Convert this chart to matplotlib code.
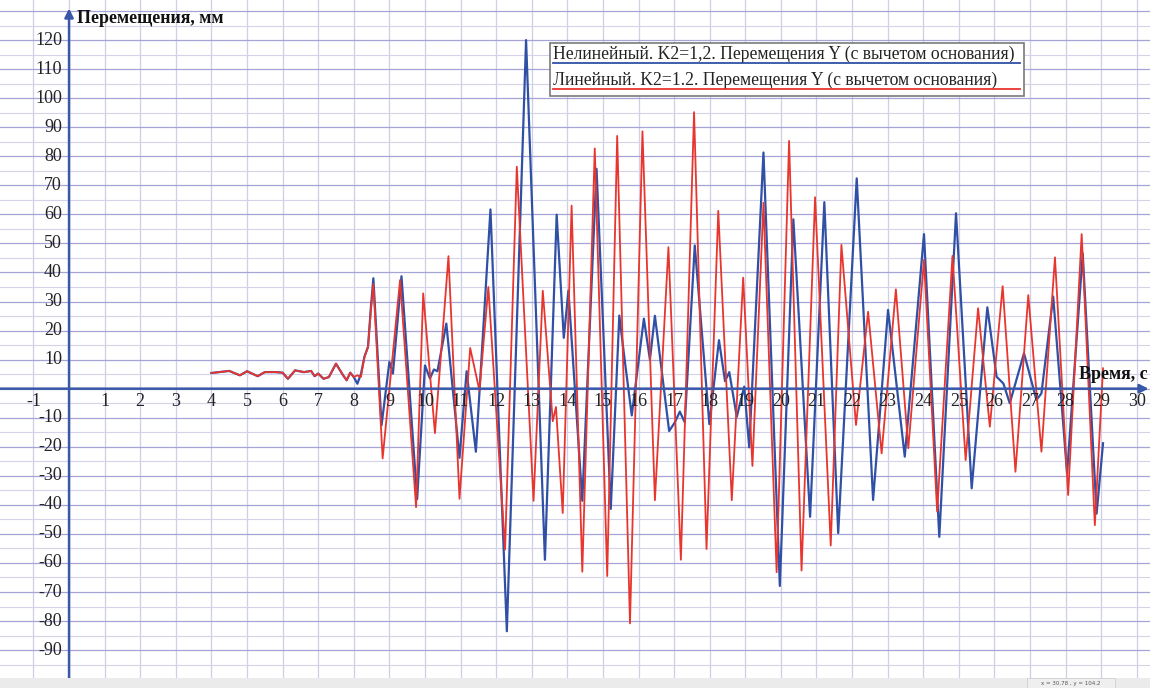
import matplotlib
matplotlib.use("Agg")
import matplotlib.pyplot as plt
from matplotlib.patches import Rectangle
from matplotlib.lines import Line2D

plt.rcParams['font.family'] = ['Liberation Serif', 'DejaVu Serif']

# ---------------- data ----------------
# Nonlinear (blue): time, s  and displacement, mm
t_nonlin = [4.0, 4.5, 4.8, 5.0, 5.3, 5.5, 5.8, 6.0, 6.15, 6.35, 6.6, 6.8, 6.9, 7.0, 7.15,
            7.3, 7.5, 7.7, 7.8, 7.9, 8.0, 8.1, 8.2, 8.3, 8.4, 8.48, 8.55,
            8.78, 9.0, 9.1, 9.34, 9.78, 10.0, 10.14, 10.25, 10.35, 10.6, 10.97, 11.17,
            11.43, 11.84, 12.30, 12.84, 13.37, 13.70, 13.90, 14.03, 14.42, 14.82, 15.22,
            15.46, 15.59, 15.81, 16.15, 16.32, 16.46, 16.86, 17.02, 17.16, 17.30, 17.58,
            17.99, 18.26, 18.43, 18.55, 18.76, 18.97, 19.11, 19.51, 19.97, 20.35, 20.82,
            21.22, 21.61, 22.13, 22.59, 23.01, 23.48, 24.02, 24.45, 24.92, 25.36, 25.80,
            26.06, 26.25, 26.43, 26.83, 27.18, 27.32, 27.65, 28.04, 28.48, 28.87, 29.05]
y_nonlin = [5.4, 6.1, 4.6, 6.0, 4.3, 5.7, 5.7, 5.5, 3.4, 6.3, 5.7, 6.1, 4.3, 5.2, 3.4,
            4.0, 8.6, 4.6, 2.9, 5.5, 4.0, 1.7, 5.0, 11.0, 14.4, 28.0, 38.0,
            -12.6, 9.2, 5.2, 38.7, -38.0, 8.0, 3.5, 6.6, 6.0, 22.4, -23.8, 6.0,
            -21.7, 61.7, -83.5, 120.0, -58.9, 59.9, 17.5, 33.7, -38.6, 75.7, -41.4,
            25.2, 11.9, -9.2, 24.1, 10.0, 25.1, -14.6, -11.6, -7.9, -11.6, 49.3,
            -12.2, 16.7, 2.6, 5.7, -9.7, 0.7, -20.2, 81.3, -67.9, 58.3, -44.1,
            64.2, -49.7, 72.4, -38.3, 27.1, -23.4, 53.2, -51.0, 60.4, -34.3, 28.0,
            4.1, 1.8, -5.0, 12.2, -3.9, -1.6, 31.7, -29.1, 46.6, -43.0, -18.8]

# Linear (red)
t_lin = [4.0, 4.5, 4.8, 5.0, 5.3, 5.5, 5.8, 6.0, 6.15, 6.35, 6.6, 6.8, 6.9, 7.0, 7.15,
         7.3, 7.5, 7.7, 7.8, 7.9, 8.0, 8.1, 8.2, 8.3, 8.4, 8.48, 8.55,
         8.81, 9.30, 9.75, 9.95, 10.28, 10.66, 10.97, 11.27, 11.53, 11.78, 12.25, 12.58,
         13.05, 13.31, 13.59, 13.68, 13.87, 14.12, 14.42, 14.77, 15.12, 15.40, 15.76,
         16.11, 16.46, 16.84, 17.19, 17.56, 17.91, 18.24, 18.62, 18.94, 19.20, 19.51,
         19.88, 20.23, 20.58, 20.96, 21.40, 21.70, 22.11, 22.45, 22.83, 23.23, 23.58,
         24.02, 24.39, 24.82, 25.19, 25.54, 25.87, 26.23, 26.59, 26.95, 27.32, 27.70,
         28.07, 28.45, 28.82, 29.05]
y_lin = [5.4, 6.1, 4.6, 6.0, 4.3, 5.7, 5.7, 5.5, 3.4, 6.3, 5.7, 6.1, 4.3, 5.2, 3.4,
         4.0, 8.6, 4.6, 2.9, 5.5, 4.0, 4.6, 4.0, 11.0, 14.4, 27.0, 36.0,
         -24.0, 37.4, -40.8, 32.8, -15.3, 45.6, -37.9, 14.0, -0.7, 35.0, -55.4, 76.4,
         -38.6, 33.7, -11.2, -6.3, -42.8, 63.0, -63.0, 82.7, -64.5, 87.0, -80.8,
         88.6, -38.4, 48.7, -58.9, 95.2, -55.2, 61.2, -38.4, 38.2, -26.6, 64.0,
         -63.2, 85.3, -62.6, 65.9, -54.0, 49.5, -12.5, 26.5, -22.3, 34.2, -20.5,
         44.3, -42.3, 45.7, -24.6, 27.7, -13.1, 35.3, -28.6, 32.2, -21.7, 45.2,
         -36.6, 53.2, -47.0, 7.0]

x_ticks = [-1] + list(range(1, 31))
y_ticks = [v for v in range(-90, 121, 10) if v != 0]
legend_labels = ["Нелинейный. K2=1,2. Перемещения Y (с вычетом основания)",
                 "Линейный. K2=1.2. Перемещения Y (с вычетом основания)"]
y_title = "Перемещения, мм"
x_title = "Время, с"

# ---------------- style ----------------
BLUE = '#3050a5'
RED = '#e8352d'
AXIS = '#3a58a8'
W, H = 1150, 688
BAR = 10

fig = plt.figure(figsize=(W / 100, H / 100), dpi=100)
fig.patch.set_facecolor('white')
ax = fig.add_axes([0, BAR / H, 1, (H - BAR) / H])
ax.set_xlim(-1.94, 30.37)
ax.set_ylim(-99.6, 133.8)
for s in ax.spines.values():
    s.set_visible(False)

ax.set_xticks(range(-1, 31))
ax.set_yticks(range(-90, 131, 10))
ax.set_yticks(range(-95, 131, 10), minor=True)
ax.tick_params(which='both', length=0, labelbottom=False, labelleft=False)
ax.grid(which='major', axis='x', color='#cfcfe6', lw=0.9)
ax.grid(which='major', axis='y', color='#a4a4d6', lw=0.9)
ax.grid(which='minor', axis='y', color='#d3d3ea', lw=0.8)
ax.set_axisbelow(True)

# series
ax.plot(t_nonlin, y_nonlin, color=BLUE, lw=1.6, solid_joinstyle='round', zorder=3)
ax.plot(t_lin, y_lin, color=RED, lw=1.3, solid_joinstyle='round', zorder=4)

# axes with arrows
ax.annotate('', xy=(30.33, 0), xytext=(-1.94, 0),
            arrowprops=dict(arrowstyle='-|>', color=AXIS, lw=1.8, mutation_scale=13,
                            shrinkA=0, shrinkB=0), zorder=5)
ax.annotate('', xy=(0, 130.9), xytext=(0, -99.6),
            arrowprops=dict(arrowstyle='-|>', color=AXIS, lw=1.8, mutation_scale=13,
                            shrinkA=0, shrinkB=0), zorder=5)

# tick labels
for xv in x_ticks:
    ax.text(xv, -4.4, str(xv), ha='center', va='center', fontsize=13, color='#222222', zorder=6)
for yv in y_ticks:
    ax.text(-0.2, yv, str(yv), ha='right', va='center', fontsize=13, color='#222222', zorder=6)

ax.text(0.22, 127.4, y_title, ha='left', va='center', fontsize=13, fontweight='bold', color='#111111')
ax.text(30.31, 5.0, x_title, ha='right', va='center', fontsize=13, fontweight='bold', color='#111111',
        zorder=6)

# legend (drawn manually in axes-fraction coordinates)
AH = H - BAR
def fx(px):
    return px / W
def fy(py):
    return (AH - py) / AH

ax.add_patch(Rectangle((fx(550), fy(96)), fx(1024) - fx(550), fy(43) - fy(96),
                       transform=ax.transAxes, facecolor='white', edgecolor='#7a7a7a',
                       lw=1.2, zorder=7))
ax.text(fx(553), fy(54), legend_labels[0], transform=ax.transAxes, ha='left', va='center',
        fontsize=12.7, color='#222222', zorder=8)
ax.add_line(Line2D([fx(553), fx(1020)], [fy(63), fy(63)], transform=ax.transAxes,
                   color=BLUE, lw=1.3, zorder=8))
ax.text(fx(553), fy(80), legend_labels[1], transform=ax.transAxes, ha='left', va='center',
        fontsize=12.7, color='#222222', zorder=8)
ax.add_line(Line2D([fx(553), fx(1020)], [fy(89), fy(89)], transform=ax.transAxes,
                   color=RED, lw=1.3, zorder=8))

# status bar at the bottom
fig.patches.append(Rectangle((0, 0), 1, BAR / H, transform=fig.transFigure,
                             facecolor='#ebebeb', edgecolor='none', zorder=0))
fig.patches.append(Rectangle((1027 / W, 0), (1115 - 1027) / W, BAR / H, transform=fig.transFigure,
                             facecolor='#efefef', edgecolor='#cfcfcf', lw=0.6, zorder=1))
fig.text(1071 / W, 4 / H, "x = 30.78 , y = 104.2", ha='center', va='center', fontsize=4,
         color='#555555', family='DejaVu Sans')

fig.savefig('out.png', dpi=100)
